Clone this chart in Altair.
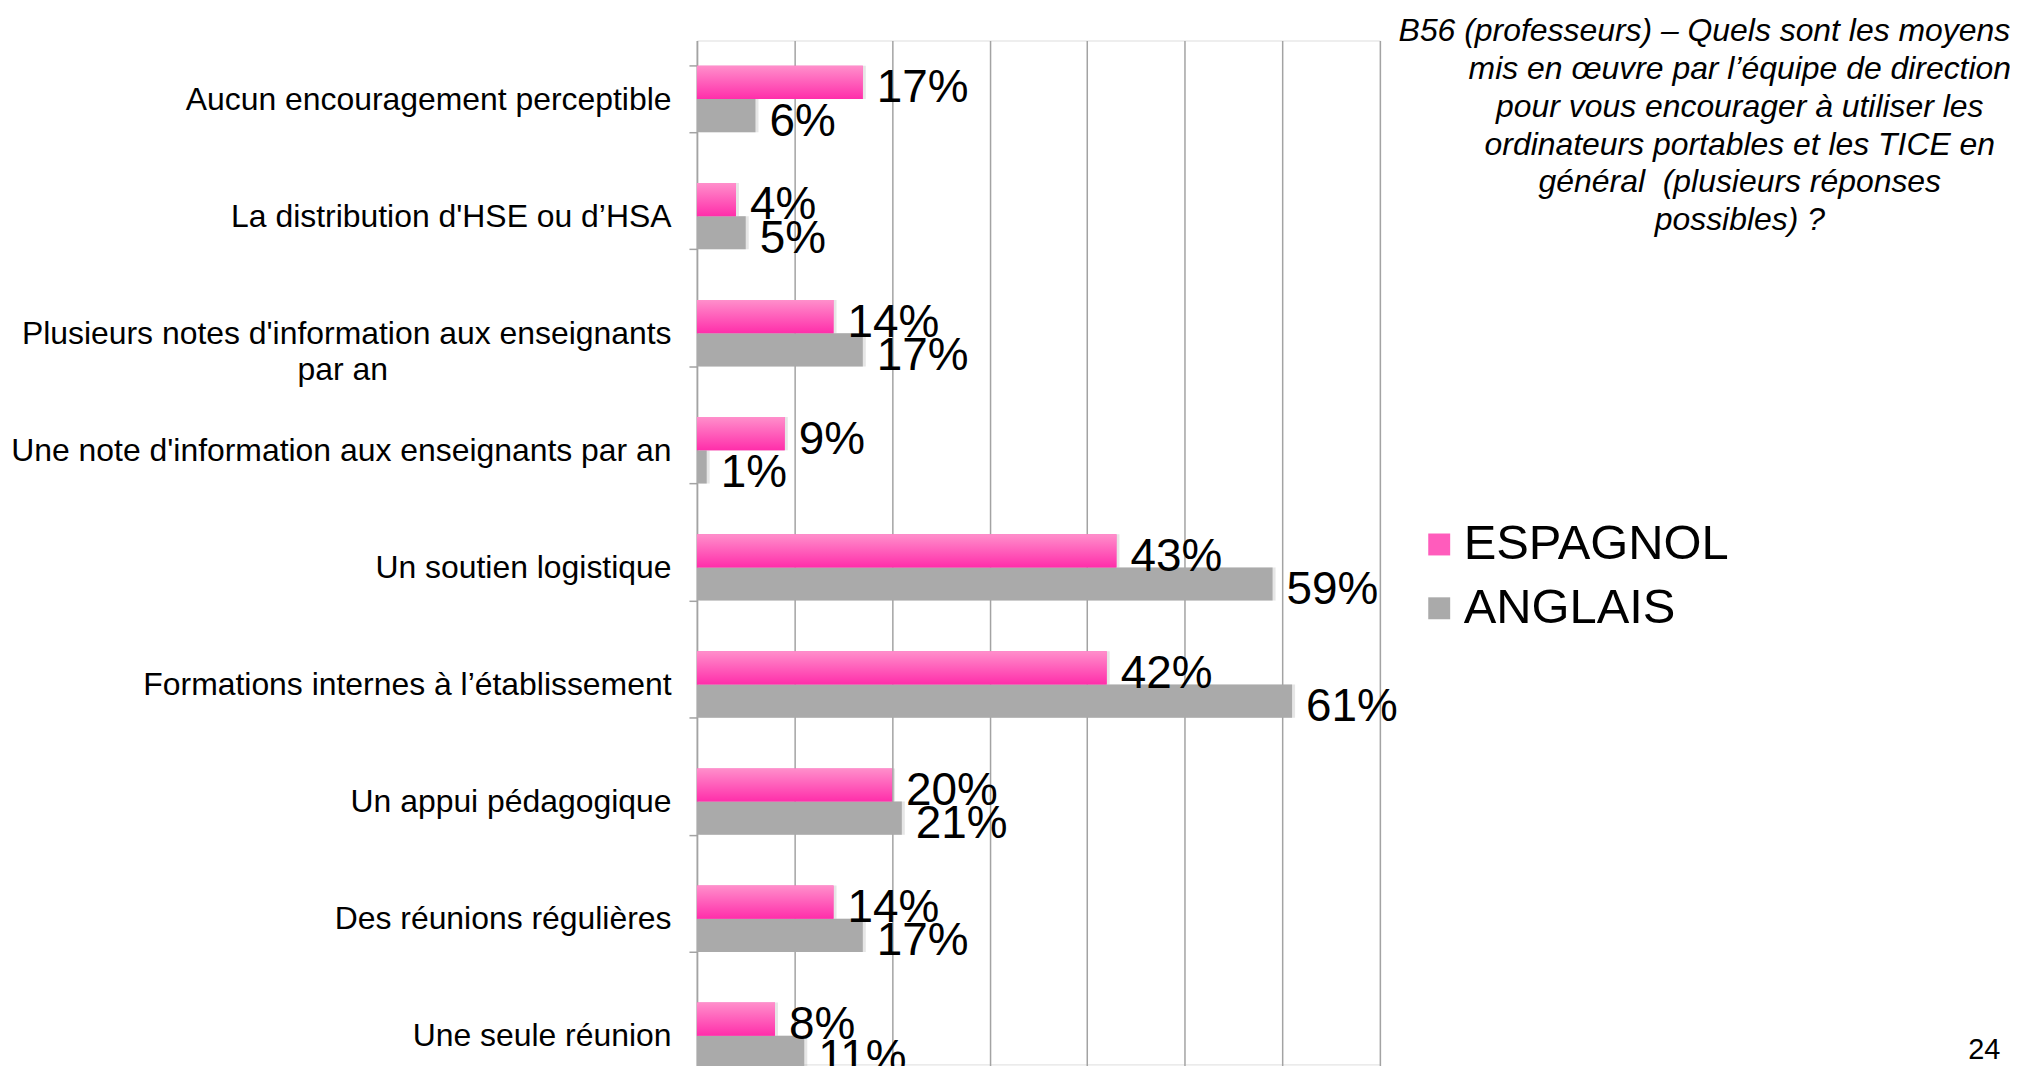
import altair as alt
import pandas as pd

NB = "\u00a0"
ZW = "\u200b"
categories = [
    "Aucun encouragement perceptible",
    "La distribution d'HSE ou d’HSA",
    "Plusieurs notes d'information aux enseignants|par an" + NB * 32 + ZW,
    "Une note d'information aux enseignants par an",
    "Un soutien logistique",
    "Formations internes à l’établissement",
    "Un appui pédagogique",
    "Des réunions régulières",
    "Une seule réunion",
]
series = ["ESPAGNOL", "ANGLAIS"]
espagnol = [17, 4, 14, 9, 43, 42, 20, 14, 8]
anglais = [6, 5, 17, 1, 59, 61, 21, 17, 11]

title_lines = [
    "B56 (professeurs) – Quels sont les moyens" + NB * 8 + ZW,
    "mis en œuvre par l’équipe de direction",
    "pour vous encourager à utiliser les",
    "ordinateurs portables et les TICE en",
    "général" + NB + " (plusieurs réponses",
    "possibles) ?",
]
page_number = ["24"]

rows = []
for c, e, a in zip(categories, espagnol, anglais):
    rows.append({"category": c, "series": "ESPAGNOL", "value": e, "label": f"{e}%"})
    rows.append({"category": c, "series": "ANGLAIS", "value": a, "label": f"{a}%"})
df = pd.DataFrame(rows)

FONT = "Liberation Sans"
PINK = "#ff5cbc"
GRAY = "#aaaaaa"

x_enc = alt.X(
    "value:Q",
    scale=alt.Scale(domain=[0, 70], nice=False),
    axis=alt.Axis(
        orient="top", grid=True, values=list(range(0, 71, 10)), labels=False,
        ticks=False, domain=False, title=None, gridColor="#a3a3a3", gridWidth=1.5,
    ),
)
y_enc = alt.Y(
    "category:N",
    sort=categories,
    scale=alt.Scale(range=[0, 1057], paddingInner=0.433, paddingOuter=0.2165),
    axis=alt.Axis(
        title=None, labelFontSize=32, labelColor="#000000", labelFont=FONT,
        labelLimit=900, labelPadding=18, labelAlign="right", labelBaseline="middle",
        labelLineHeight=36, labelExpr="split(datum.label, '|')",
        tickBand="extent", tickSize=8, tickColor="#a3a3a3", tickWidth=1.5,
        domainColor="#a3a3a3", domainWidth=1.5, grid=False,
    ),
)
yoff_enc = alt.YOffset(
    "series:N", sort=series,
    scale=alt.Scale(domain=series, paddingInner=0, paddingOuter=0),
)

base = alt.Chart(df).encode(x=x_enc, y=y_enc, yOffset=yoff_enc)

shadow = base.mark_bar(color="#9a9a9a", opacity=0.25, xOffset=3, yOffset=4)

bars = base.mark_bar().encode(
    color=alt.Color(
        "series:N",
        sort=series,
        scale=alt.Scale(domain=series, range=[PINK, GRAY]),
        legend=alt.Legend(
            orient="none", legendX=720, legendY=481, title=None,
            symbolType="square", symbolSize=484, symbolStrokeWidth=0,
            labelFontSize=49, labelFont=FONT, labelColor="#000000",
            rowPadding=14, labelOffset=0, labelLimit=600,
        ),
    )
)

pink_grad = alt.Gradient(
    gradient="linear",
    stops=[alt.GradientStop(color="#ff8fcb", offset=0),
           alt.GradientStop(color="#ff2eaa", offset=1)],
    x1=0, x2=0, y1=0, y2=1,
)
pink_bars = base.transform_filter(alt.datum.series == "ESPAGNOL").mark_bar(color=pink_grad)

labels = base.mark_text(
    align="left", baseline="alphabetic", dx=14, dy=20, fontSize=46,
    font=FONT, color="#000000",
).encode(text="label:N")

page = alt.Chart(pd.DataFrame({"t": page_number})).mark_text(
    align="left", baseline="alphabetic", fontSize=29, font=FONT, color="#000000"
).encode(x=alt.value(1275), y=alt.value(1022), text="t:N")

chart = alt.layer(shadow, bars, pink_bars, labels, page).properties(
    width=685,
    height=1027,
    autosize=alt.AutoSizeParams(type="none"),
    padding={"left": 691, "top": 31, "right": 632, "bottom": 0},
    title=alt.TitleParams(
        text=title_lines, orient="top", anchor="start", frame="group",
        align="center", dx=1046, offset=-213, baseline="top",
        fontSize=32, fontStyle="italic", fontWeight="normal", font=FONT,
        color="#000000", lineHeight=37.8,
    ),
).configure_view(stroke=None).configure(font=FONT)

chart.save("out.html", embed_options={"renderer": "svg", "actions": False})
